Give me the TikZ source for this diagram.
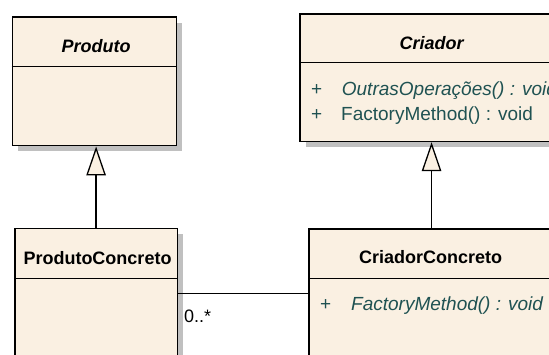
\documentclass[tikz,border=0pt]{standalone}
\usepackage{fontspec}
\setmainfont{Liberation Sans}
\usetikzlibrary{arrows.meta,shadows}
\definecolor{classfill}{HTML}{FAF0E2}
\definecolor{shadowgrey}{HTML}{C0C0C0}
\definecolor{optext}{HTML}{1F5252}

\begin{document}
\begin{tikzpicture}[x=1pt,y=1pt,
  classbox/.style={draw=black, line width=1.5pt, fill=classfill, inner sep=0pt,
    anchor=north west,
    drop shadow={shadow xshift=5.5pt, shadow yshift=-5.5pt, fill=shadowgrey, opacity=1}},
  divider/.style={draw=black, line width=1.5pt},
  classname/.style={font=\fontsize{18}{22}\selectfont\bfseries, anchor=base, inner sep=0pt},
  operation/.style={font=\fontsize{19}{23}\selectfont, text=optext, anchor=base west, inner sep=0pt},
  plain/.style={font=\fontsize{18}{22}\selectfont, anchor=base west, inner sep=0pt},
  generalization/.style={draw=black, line width=1.3pt,
    -{Triangle[length=29pt, width=19.5pt, fill=classfill, line width=1.3pt]}},
  association/.style={draw=black, line width=1.3pt},
]
\useasboundingbox (0,0) rectangle (549,354);
\clip (0,0) rectangle (549,354);

% abstract product
\node[classbox, minimum width=164pt, minimum height=128.5pt] (produto) at (11.5,337.5) {};
\draw[divider] (produto.west |- 0,287.5) -- (produto.east |- 0,287.5);
\node[classname] (produtoname) at (96,301.7) {\itshape Produto};

% abstract creator
\node[classbox, minimum width=262pt, minimum height=127.4pt] (criador) at (299.3,340.7) {};
\draw[divider] (criador.west |- 0,291.7) -- (criador.east |- 0,291.7);
\node[classname] (criadorname) at (431.7,304.7) {\itshape Criador};
\node[operation] (cplus1) at (311,258.3) {+};
\node[operation] (cop1) at (341.7,258.3) {\itshape OutrasOperações() : void};
\node[operation] (cplus2) at (311,233.3) {+};
\node[operation] (cop2) at (341,233.3) {FactoryMethod() : void};

% concrete product
\node[classbox, minimum width=162.7pt, minimum height=160pt] (prodconc) at (14,126.3) {};
\draw[divider] (prodconc.west |- 0,75.7) -- (prodconc.east |- 0,75.7);
\node[classname] (prodconcname) at (97.5,90) {ProdutoConcreto};

% concrete creator
\node[classbox, minimum width=245pt, minimum height=160pt] (criadorconc) at (308.3,125.7) {};
\draw[divider] (criadorconc.west |- 0,75.7) -- (criadorconc.east |- 0,75.7);
\node[classname] (criadorconcname) at (430.7,90.7) {CriadorConcreto};
\node[operation] (ccplus) at (320,44) {+};
\node[operation] (ccop) at (351,44) {\itshape FactoryMethod() : void};

% relations
\draw[generalization] (prodconc.north) -- (prodconc.north |- produto.south);
\draw[generalization] (criadorconc.north) -- (criadorconc.north |- criador.south);
\coordinate (assocrow) at (0,60.7);
\draw[association] (prodconc.east |- assocrow) -- (criadorconc.west |- assocrow);
\node[plain] (mult) at (184,31.3) {0..*};
\end{tikzpicture}
\end{document}
